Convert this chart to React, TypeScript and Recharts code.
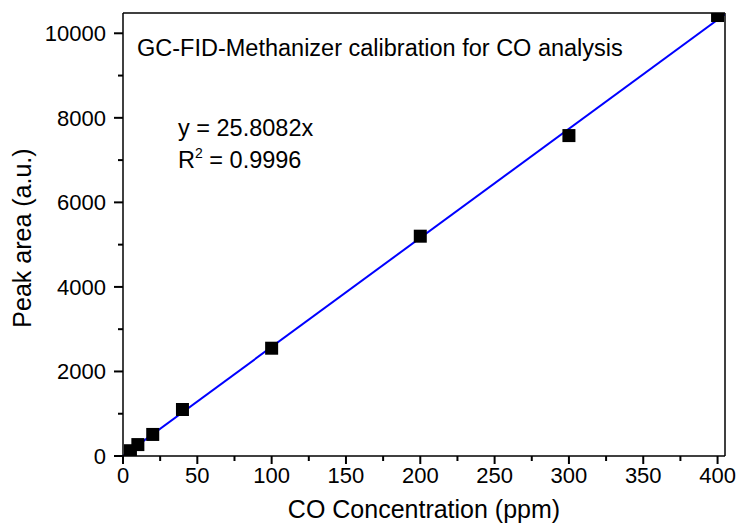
import React from "react";
import { ComposedChart, Scatter, Line, XAxis, YAxis } from "recharts";

// measured CO calibration points
const concentration = [5, 10, 20, 40, 100, 200, 300, 400];
const peakArea = [125, 270, 510, 1100, 2550, 5200, 7580, 10420];

// linear fit y = 25.8082x, drawn across the whole x range
const fitX = [0, 405];
const fitY = [0, 10452];

const xMajorTicks = [0, 50, 100, 150, 200, 250, 300, 350, 400];
const xMinorTicks = [25, 75, 125, 175, 225, 275, 325, 375];
const yMajorTicks = [0, 2000, 4000, 6000, 8000, 10000];
const yMinorTicks = [1000, 3000, 5000, 7000, 9000];

const points = concentration.map((x, i) => ({ x, y: peakArea[i] }));
const fitLine = fitX.map((x, i) => ({ x, y: fitY[i] }));
const xTicks = [...xMajorTicks, ...xMinorTicks].sort((a, b) => a - b);
const yTicks = [...yMajorTicks, ...yMinorTicks].sort((a, b) => a - b);

const FONT = "'Liberation Sans', Arial, sans-serif";
const W = 738;
const H = 531;

const BottomTick = (props: any) => {
    const x = Number(props.x);
    const y = Number(props.y);
    const major = xMajorTicks.includes(props.payload.value);
    return (
        <g>
            <path d={`M${x},${y}V${y + (major ? 8 : 5)}`} stroke="#000" strokeWidth={2} fill="none" />
            {major && (
                <text x={x} y={y + 27} textAnchor="middle" fontSize={22} fontFamily={FONT} fill="#000">
                    {props.payload.value}
                </text>
            )}
        </g>
    );
};

const LeftTick = (props: any) => {
    const x = Number(props.x);
    const y = Number(props.y);
    const major = yMajorTicks.includes(props.payload.value);
    return (
        <g>
            <path d={`M${x - (major ? 9 : 5)},${y}H${x}`} stroke="#000" strokeWidth={2} fill="none" />
            {major && (
                <text x={x - 17} y={y + 8} textAnchor="end" fontSize={22} fontFamily={FONT} fill="#000">
                    {props.payload.value}
                </text>
            )}
        </g>
    );
};

const TopTick = (props: any) => {
    const x = Number(props.x);
    const y = Number(props.y);
    return <path d={`M${x},${y}V${y + 3}`} stroke="#000" strokeWidth={1.5} fill="none" />;
};

const RightTick = (props: any) => {
    const x = Number(props.x);
    const y = Number(props.y);
    return <path d={`M${x - 3},${y}H${x}`} stroke="#000" strokeWidth={1.5} fill="none" />;
};

const Square = (props: any) => {
    const { cx, cy } = props;
    return <rect x={cx - 6.5} y={cy - 6.5} width={13} height={13} fill="#000" />;
};

export default function App() {
    return (
        <div style={{ position: "absolute", left: 0, top: 0, width: W, height: H, background: "#fff" }}>
            <ComposedChart width={W} height={H} margin={{ top: 12, right: 12, left: 0, bottom: 0 }}>
                <XAxis
                    xAxisId="x"
                    dataKey="x"
                    type="number"
                    domain={[0, 405]}
                    ticks={xTicks}
                    interval={0}
                    height={75}
                    tickSize={0}
                    tickMargin={0}
                    tickLine={false}
                    tick={<BottomTick />}
                    axisLine={{ stroke: "#000", strokeWidth: 1.5 }}
                    allowDataOverflow
                />
                <XAxis
                    xAxisId="top"
                    orientation="top"
                    type="number"
                    domain={[0, 405]}
                    ticks={xTicks}
                    interval={0}
                    height={1}
                    tickSize={0}
                    tickMargin={0}
                    tickLine={false}
                    tick={<TopTick />}
                    axisLine={{ stroke: "#000", strokeWidth: 1.5 }}
                />
                <YAxis
                    yAxisId="y"
                    dataKey="y"
                    type="number"
                    domain={[0, 10480]}
                    ticks={yTicks}
                    interval={0}
                    width={123}
                    tickSize={0}
                    tickMargin={0}
                    tickLine={false}
                    tick={<LeftTick />}
                    axisLine={{ stroke: "#000", strokeWidth: 1.5 }}
                    allowDataOverflow
                />
                <YAxis
                    yAxisId="right"
                    orientation="right"
                    type="number"
                    domain={[0, 10480]}
                    ticks={yTicks}
                    interval={0}
                    width={1}
                    tickSize={0}
                    tickMargin={0}
                    tickLine={false}
                    tick={<RightTick />}
                    axisLine={{ stroke: "#000", strokeWidth: 1.5 }}
                />
                <Scatter
                    xAxisId="x"
                    yAxisId="y"
                    data={points}
                    dataKey="y"
                    shape={<Square />}
                    isAnimationActive={false}
                />
                <Line
                    xAxisId="x"
                    yAxisId="y"
                    data={fitLine}
                    dataKey="y"
                    type="linear"
                    stroke="#0000ff"
                    strokeWidth={2}
                    dot={false}
                    activeDot={false}
                    isAnimationActive={false}
                />
            </ComposedChart>
            <svg
                width={W}
                height={H}
                style={{ position: "absolute", left: 0, top: 0, pointerEvents: "none" }}
                fontFamily={FONT}
                fill="#000"
            >
                <text x={137} y={56} fontSize={23.5}>GC-FID-Methanizer calibration for CO analysis</text>
                <text x={178} y={136} fontSize={23.5}>y = 25.8082x</text>
                <text x={178} y={168} fontSize={23.5}>
                    R<tspan fontSize={14} dy={-10}>2</tspan>
                    <tspan dy={10}> = 0.9996</tspan>
                </text>
                <text x={424} y={518} fontSize={25} textAnchor="middle">CO Concentration (ppm)</text>
                <text x={31} y={238} fontSize={25} textAnchor="middle" transform="rotate(-90 31 238)">
                    Peak area (a.u.)
                </text>
            </svg>
        </div>
    );
}
